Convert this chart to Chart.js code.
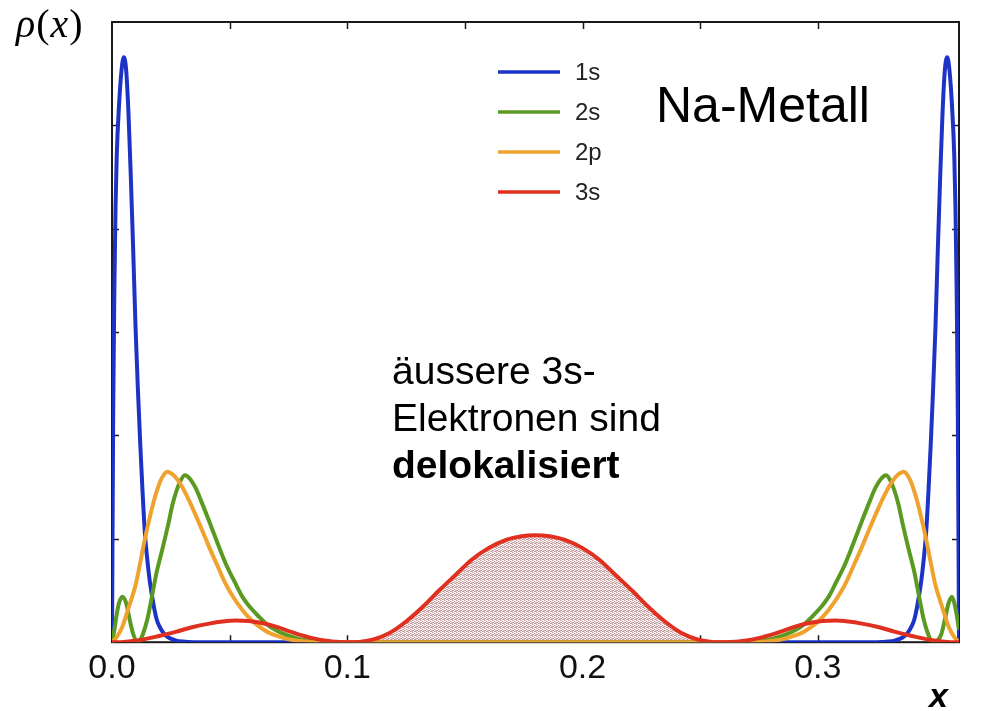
<!DOCTYPE html>
<html>
<head>
<meta charset="utf-8">
<script src="https://cdn.jsdelivr.net/npm/chart.js@4/dist/chart.umd.min.js"></script>
<style>
  html, body { margin: 0; padding: 0; background: #ffffff; }
  #wrap { position: relative; width: 981px; height: 711px; overflow: hidden; }
  #c { position: absolute; left: 0; top: 0; }
  .txt { position: absolute; white-space: nowrap; color: #000; font-family: "Liberation Sans", Arial, sans-serif; }
</style>
</head>
<body>
<div id="wrap">
  <canvas id="c" width="981" height="711"></canvas>
  <div class="txt" id="ylab" style="left:16px; top:4px; font-family:'Liberation Serif','DejaVu Serif',serif; font-size:40px; line-height:40px; letter-spacing:1px;"><i>ρ</i>(<i>x</i>)</div>
  <div class="txt" id="xlab" style="left:929px; top:678px; font-style:italic; font-weight:bold; font-size:34px; line-height:34px;">x</div>
  <div class="txt" id="title" style="left:656px; top:80px; font-size:50px; line-height:50px;">Na-Metall</div>
  <div class="txt" id="note" style="left:392px; top:347px; font-size:39px; line-height:47px;">äussere 3s-<br>Elektronen sind<br><b>delokalisiert</b></div>
</div>
<script>
// ---------- data ----------
const seriesLabels = ['1s', '2s', '2p', '3s'];

const x1s = [0, 0.0005, 0.001, 0.0015, 0.002, 0.003, 0.004, 0.005, 0.006, 0.007, 0.008, 0.009, 0.010, 0.011, 0.012, 0.013, 0.014, 0.015, 0.016, 0.017, 0.018, 0.019, 0.020, 0.022, 0.024, 0.027, 0.030, 0.035,
             0.325, 0.330, 0.333, 0.336, 0.338, 0.340, 0.341, 0.342, 0.343, 0.344, 0.345, 0.346, 0.347, 0.348, 0.349, 0.350, 0.351, 0.352, 0.353, 0.354, 0.355, 0.356, 0.357, 0.358, 0.3585, 0.359, 0.3595, 0.36];
const y1s = [0, 2.2, 3.4, 4.2, 4.7, 5.2, 5.52, 5.66, 5.54, 5.12, 4.5, 3.8, 3.05, 2.45, 1.92, 1.45, 1.05, 0.8, 0.6, 0.45, 0.32, 0.22, 0.16, 0.085, 0.045, 0.018, 0.006, 0,
             0, 0.006, 0.018, 0.045, 0.085, 0.16, 0.22, 0.32, 0.45, 0.6, 0.8, 1.05, 1.45, 1.92, 2.45, 3.05, 3.8, 4.5, 5.12, 5.54, 5.66, 5.52, 5.2, 4.7, 4.2, 3.4, 2.2, 0];

const x2s = [0, 0.001, 0.002, 0.003, 0.0044, 0.006, 0.0075, 0.009, 0.0108, 0.012, 0.013, 0.015, 0.0172, 0.019, 0.0214, 0.024, 0.0257, 0.0285, 0.031, 0.0335, 0.0356, 0.038, 0.0413, 0.045, 0.0484, 0.052, 0.0555, 0.059, 0.0626, 0.066, 0.0697, 0.0735, 0.0767, 0.080, 0.0838, 0.090, 0.095,
             0.265, 0.270, 0.2762, 0.280, 0.2833, 0.2865, 0.2903, 0.294, 0.2974, 0.301, 0.3045, 0.308, 0.3116, 0.315, 0.3187, 0.322, 0.3244, 0.3265, 0.329, 0.3315, 0.3343, 0.336, 0.3386, 0.341, 0.3428, 0.345, 0.347, 0.348, 0.3492, 0.3525, 0.354, 0.3556, 0.357, 0.358, 0.359, 0.36];
const y2s = [0, 0.12, 0.27, 0.38, 0.44, 0.38, 0.22, 0.08, 0, 0.02, 0.07, 0.22, 0.47, 0.68, 0.9, 1.15, 1.33, 1.53, 1.615, 1.57, 1.49, 1.36, 1.17, 0.95, 0.757, 0.59, 0.436, 0.33, 0.243, 0.17, 0.115, 0.075, 0.05, 0.03, 0.015, 0.004, 0,
             0, 0.004, 0.015, 0.03, 0.05, 0.075, 0.115, 0.17, 0.243, 0.33, 0.436, 0.59, 0.757, 0.95, 1.17, 1.36, 1.49, 1.57, 1.615, 1.53, 1.33, 1.15, 0.9, 0.68, 0.47, 0.22, 0.07, 0.02, 0, 0.08, 0.22, 0.38, 0.44, 0.38, 0.27, 0.12, 0];

const x2p = [0, 0.002, 0.0044, 0.007, 0.0101, 0.012, 0.014, 0.0165, 0.0186, 0.021, 0.0235, 0.026, 0.0285, 0.0315, 0.0342, 0.038, 0.0413, 0.045, 0.0484, 0.052, 0.0555, 0.059, 0.0626, 0.066, 0.0697, 0.073, 0.0767, 0.080, 0.0838, 0.090, 0.095,
             0.265, 0.270, 0.2762, 0.280, 0.2833, 0.287, 0.2903, 0.294, 0.2974, 0.301, 0.3045, 0.308, 0.3116, 0.315, 0.3187, 0.322, 0.3258, 0.3285, 0.3315, 0.334, 0.3365, 0.339, 0.3414, 0.3435, 0.346, 0.348, 0.3499, 0.353, 0.3556, 0.358, 0.36];
const y2p = [0, 0.05, 0.15, 0.33, 0.56, 0.77, 1.0, 1.25, 1.43, 1.58, 1.65, 1.62, 1.55, 1.43, 1.30, 1.1, 0.92, 0.73, 0.56, 0.42, 0.31, 0.22, 0.15, 0.10, 0.065, 0.04, 0.022, 0.012, 0.005, 0.001, 0,
             0, 0.001, 0.005, 0.012, 0.022, 0.04, 0.065, 0.10, 0.15, 0.22, 0.31, 0.42, 0.56, 0.73, 0.92, 1.1, 1.30, 1.43, 1.55, 1.62, 1.65, 1.58, 1.43, 1.25, 1.0, 0.77, 0.56, 0.33, 0.15, 0.05, 0];

const x3s = [0, 0.005, 0.0129, 0.020, 0.0271, 0.034, 0.0413, 0.047, 0.0526, 0.058, 0.0626, 0.0697, 0.0767, 0.0838, 0.091, 0.097, 0.100,
             0.105, 0.1108, 0.118, 0.125, 0.132, 0.139, 0.146, 0.153, 0.160, 0.1675, 0.174, 0.180, 0.186, 0.1925, 0.200, 0.207, 0.214, 0.221, 0.228, 0.235, 0.242, 0.2492, 0.255, 0.260,
             0.263, 0.269, 0.2762, 0.2833, 0.2903, 0.2974, 0.302, 0.3074, 0.313, 0.3187, 0.326, 0.3329, 0.340, 0.3471, 0.355, 0.36];
const y3s = [0, 0.003, 0.025, 0.06, 0.10, 0.145, 0.18, 0.20, 0.21, 0.205, 0.19, 0.15, 0.095, 0.047, 0.014, 0.002, 0,
             0.003, 0.025, 0.09, 0.2, 0.34, 0.5, 0.65, 0.8, 0.91, 0.99, 1.025, 1.035, 1.025, 0.99, 0.91, 0.8, 0.65, 0.5, 0.34, 0.2, 0.09, 0.025, 0.003, 0,
             0.002, 0.014, 0.047, 0.095, 0.15, 0.19, 0.205, 0.21, 0.20, 0.18, 0.145, 0.10, 0.06, 0.025, 0.003, 0];

// shaded delocalised part of the 3s density
const xShade = [0.100, 0.105, 0.1108, 0.118, 0.125, 0.132, 0.139, 0.146, 0.153, 0.160, 0.1675, 0.174, 0.180, 0.186, 0.1925, 0.200, 0.207, 0.214, 0.221, 0.228, 0.235, 0.242, 0.2492, 0.255, 0.260];
const yShade = [0, 0.003, 0.025, 0.09, 0.2, 0.34, 0.5, 0.65, 0.8, 0.91, 0.99, 1.025, 1.035, 1.025, 0.99, 0.91, 0.8, 0.65, 0.5, 0.34, 0.2, 0.09, 0.025, 0.003, 0];

const xTickLabels = ['0.0', '0.1', '0.2', '0.3'];
// ------------------------------------------------------------

function pts(xs, ys) { return xs.map((x, i) => ({ x: x, y: ys[i] })); }

const seriesColors = ['#1d33c8', '#5b9a22', '#f0a22e', '#e0301f'];

function makePattern() {
  const c = document.createElement('canvas');
  c.width = 4; c.height = 4;
  const g = c.getContext('2d');
  g.fillStyle = '#ffffff';
  g.fillRect(0, 0, 4, 4);
  g.fillStyle = 'rgba(185,140,140,0.85)';
  [[0,0],[2,1],[1,2],[3,3],[2,3],[0,2]].forEach(p => g.fillRect(p[0], p[1], 1, 1));
  g.fillStyle = 'rgba(210,185,185,0.7)';
  [[1,0],[3,1],[0,3],[3,2]].forEach(p => g.fillRect(p[0], p[1], 1, 1));
  return document.getElementById('c').getContext('2d').createPattern(c, 'repeat');
}

const lineBase = { borderWidth: 4, pointRadius: 0, fill: false, cubicInterpolationMode: 'monotone' };

const frameAndTicks = {
  id: 'frameAndTicks',
  beforeDatasetsDraw(chart) {
    const { ctx, chartArea: a, scales } = chart;
    ctx.save();
    ctx.strokeStyle = '#1a1a1a';
    ctx.lineWidth = 2;
    ctx.strokeRect(a.left, a.top, a.right - a.left, a.bottom - a.top);
    ctx.lineWidth = 1.5;
    const L = 7;
    scales.x.ticks.forEach(t => {
      if (t.value <= scales.x.min + 1e-9 || t.value >= scales.x.max - 1e-9) return;
      const px = Math.round(scales.x.getPixelForValue(t.value)) + 0.5;
      ctx.beginPath();
      ctx.moveTo(px, a.top); ctx.lineTo(px, a.top + L);
      ctx.moveTo(px, a.bottom); ctx.lineTo(px, a.bottom - L);
      ctx.stroke();
    });
    scales.y.ticks.forEach(t => {
      if (t.value <= scales.y.min || t.value >= scales.y.max) return;
      const py = Math.round(scales.y.getPixelForValue(t.value)) + 0.5;
      ctx.beginPath();
      ctx.moveTo(a.right, py); ctx.lineTo(a.right - L, py);
      ctx.moveTo(a.left, py); ctx.lineTo(a.left + L, py);
      ctx.stroke();
    });
    ctx.restore();
  }
};

const customLegend = {
  id: 'customLegend',
  afterDraw(chart) {
    const { ctx } = chart;
    ctx.save();
    let i = 0;
    chart.data.datasets.forEach(ds => {
      if (ds.hideInLegend) return;
      const y = 72 + i * 40;
      ctx.strokeStyle = ds.borderColor;
      ctx.lineWidth = 3.5;
      ctx.beginPath();
      ctx.moveTo(498, y); ctx.lineTo(560, y);
      ctx.stroke();
      ctx.fillStyle = '#222';
      ctx.font = '24px "Liberation Sans", Arial, sans-serif';
      ctx.textBaseline = 'middle';
      ctx.textAlign = 'left';
      ctx.fillText(ds.label, 575, y + 1);
      i++;
    });
    ctx.restore();
  }
};

const chart = new Chart(document.getElementById('c'), {
  type: 'line',
  data: {
    datasets: [
      Object.assign({}, lineBase, { label: seriesLabels[0], data: pts(x1s, y1s), borderColor: seriesColors[0], order: 4 }),
      Object.assign({}, lineBase, { label: seriesLabels[1], data: pts(x2s, y2s), borderColor: seriesColors[1], order: 3 }),
      Object.assign({}, lineBase, { label: seriesLabels[2], data: pts(x2p, y2p), borderColor: seriesColors[2], order: 2 }),
      Object.assign({}, lineBase, { label: seriesLabels[3], data: pts(x3s, y3s), borderColor: seriesColors[3], order: 0 }),
      { label: '3s delokalisiert', hideInLegend: true, data: pts(xShade, yShade), borderWidth: 0, borderColor: 'rgba(0,0,0,0)',
        pointRadius: 0, fill: 'origin', backgroundColor: makePattern(), cubicInterpolationMode: 'monotone', order: 6 }
    ]
  },
  options: {
    responsive: false,
    animation: false,
    devicePixelRatio: 1,
    layout: { padding: { left: 112, right: 22, top: 22, bottom: 16 } },
    plugins: { legend: { display: false }, tooltip: { enabled: false } },
    scales: {
      x: {
        type: 'linear', min: 0, max: 0.36,
        grid: { display: false, drawTicks: false },
        border: { display: false },
        ticks: {
          stepSize: 0.05, padding: 6, color: '#111', autoSkip: false, maxRotation: 0,
          font: { family: '"Liberation Sans", Arial, sans-serif', size: 34 },
          callback: function (v) {
            const k = Math.round(v * 10);
            if (Math.abs(v * 10 - k) < 1e-6 && k < xTickLabels.length) return xTickLabels[k];
            return '';
          }
        }
      },
      y: {
        type: 'linear', min: 0, max: 6, display: false,
        ticks: { stepSize: 1 }
      }
    }
  },
  plugins: [frameAndTicks, customLegend]
});
</script>
</body>
</html>
